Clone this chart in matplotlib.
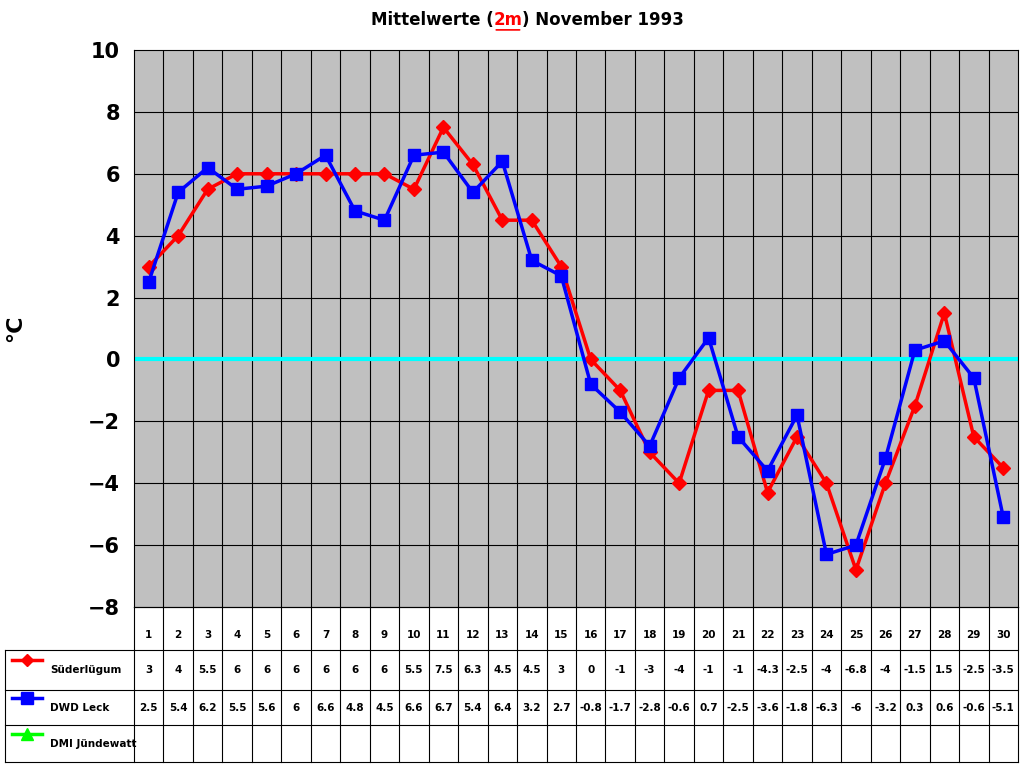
import matplotlib.pyplot as plt
import numpy as np

days = list(range(1, 31))
suederluegum = [3, 4, 5.5, 6, 6, 6, 6, 6, 6, 5.5, 7.5, 6.3, 4.5, 4.5, 3, 0, -1, -3, -4, -1,
                -1, -4.3, -2.5, -4, -6.8, -4, -1.5, 1.5, -2.5, -3.5]
dwd_leck = [2.5, 5.4, 6.2, 5.5, 5.6, 6, 6.6, 4.8, 4.5, 6.6, 6.7, 5.4, 6.4, 3.2, 2.7, -0.8, -1.7,
            -2.8, -0.6, 0.7, -2.5, -3.6, -1.8, -6.3, -6, -3.2, 0.3, 0.6, -0.6, -5.1]
series = [("Süderlügum", suederluegum, "#FF0000", "D", 7),
          ("DWD Leck", dwd_leck, "#0000FF", "s", 9),
          ("DMI Jündewatt", None, "#00FF00", "^", 9)]

W, H = 1024, 768
fig = plt.figure(figsize=(10.24, 7.68), dpi=100)
L, R, T, B = 134, 1018, 50, 607
ax = fig.add_axes([L / W, 1 - B / H, (R - L) / W, (B - T) / H])
ax.set_facecolor("#C0C0C0")
ax.set_xlim(0.5, 30.5)
ax.set_ylim(-8, 10)
ax.set_yticks(range(-8, 11, 2))
for x in np.arange(1.5, 30.5, 1):
    ax.axvline(x, color="black", lw=0.8)
for y in range(-6, 10, 2):
    ax.axhline(y, color="black", lw=0.8)
ax.axhline(0, color="#00FFFF", lw=3)
for name, vals, c, m, ms in series:
    if vals is not None:
        ax.plot(days, vals, color=c, marker=m, ms=ms, lw=2.5)
ax.set_xticks([])
ax.tick_params(axis="y", labelsize=15, length=0, pad=10)
for lab in ax.get_yticklabels():
    lab.set_fontweight("bold")
for s in ax.spines.values():
    s.set_color("black")
ax.set_ylabel("°C", fontsize=16, fontweight="bold", labelpad=45)

# title
t1 = fig.text(0.362, 1 - 20 / H, "Mittelwerte (", fontsize=12, fontweight="bold", va="center")
t2 = fig.text(0, 0, "2m", fontsize=12, fontweight="bold", color="red", va="center")
t2.set_position((0, 0))
t2.remove()
a = fig.add_artist(plt.Annotation("2m", xy=(1, 0), xycoords=t1, va="bottom", fontsize=12,
                                  fontweight="bold", color="red"))
a2 = fig.add_artist(plt.Annotation(") November 1993", xy=(1, 0), xycoords=a, va="bottom",
                                   fontsize=12, fontweight="bold"))
fig.add_artist(plt.Annotation("", xy=(0, -0.05), xycoords=a, xytext=(1, -0.05), textcoords=a,
                              arrowprops=dict(arrowstyle="-", color="red", lw=1.2)))

# data table
tb = fig.add_axes([0, 0, 1, 1])
tb.set_xlim(0, W)
tb.set_ylim(H, 0)
tb.axis("off")
rows = [607, 650, 690, 725, 762]
cw = (R - L) / 30
for y in rows[1:]:
    tb.plot([5, R], [y, y], color="black", lw=0.8)
tb.plot([L, R], [rows[0], rows[0]], color="black", lw=0.8)
tb.plot([5, 5], [rows[1], rows[-1]], color="black", lw=0.8)
for i in range(31):
    x = L + i * cw
    tb.plot([x, x], [rows[0], rows[-1]], color="black", lw=0.8)
for i, d in enumerate(days):
    xc = L + (i + 0.5) * cw
    tb.text(xc, 635, str(d), ha="center", va="center", fontsize=7.5, fontweight="bold")
for r, (name, vals, c, m, ms) in enumerate(series):
    ymid = rows[r + 1] + (rows[r + 2] - rows[r + 1]) * 0.45
    tb.plot([12, 42], [ymid - 8, ymid - 8], color=c, lw=2.5)
    tb.plot([27], [ymid - 8], color=c, marker=m, ms=ms * 0.9)
    tb.text(50, ymid + 2, name, fontsize=7.5, fontweight="bold", va="center")
    if vals is not None:
        for i, v in enumerate(vals):
            tb.text(L + (i + 0.5) * cw, ymid + 2, f"{v:g}", ha="center", va="center",
                    fontsize=7.5, fontweight="bold")

fig.savefig("out.png", dpi=100)
